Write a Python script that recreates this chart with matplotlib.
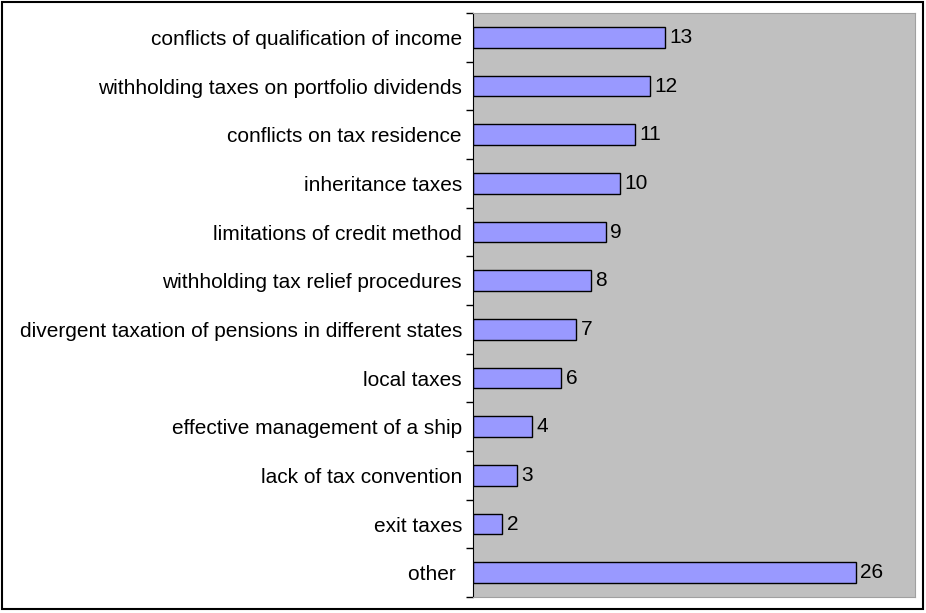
import matplotlib.pyplot as plt
from matplotlib.patches import Rectangle

categories = ['conflicts of qualification of income',
              'withholding taxes on portfolio dividends',
              'conflicts on tax residence',
              'inheritance taxes',
              'limitations of credit method',
              'withholding tax relief procedures',
              'divergent taxation of pensions in different states',
              'local taxes',
              'effective management of a ship',
              'lack of tax convention',
              'exit taxes',
              'other ']
values = [13, 12, 11, 10, 9, 8, 7, 6, 4, 3, 2, 26]

plt.rcParams['font.family'] = ['Liberation Sans', 'DejaVu Sans']

fig = plt.figure(figsize=(9.26, 6.13), dpi=100)
ax = fig.add_axes([473 / 926, 1 - 597 / 613, 442 / 926, 584 / 613])
ax.set_facecolor('#c0c0c0')

y = list(range(len(categories)))
ax.barh(y, values, height=0.43, color='#9999ff', edgecolor='black', linewidth=1)
for yi, v in zip(y, values):
    ax.text(v + 0.3, yi, str(v), va='center', ha='left', fontsize=15)

ax.set_xlim(0, 30)
ax.set_ylim(len(categories) - 0.5, -0.5)
ax.set_xticks([])
# major ticks sit on the category boundaries, labels on minor ticks
ax.set_yticks([i - 0.5 for i in range(len(categories) + 1)], minor=False)
ax.set_yticklabels([])
ax.set_yticks(y, minor=True)
ax.set_yticklabels(categories, minor=True, fontsize=15)
ax.tick_params(axis='y', which='minor', length=0, pad=8)
ax.tick_params(axis='y', which='major', length=5, width=1)
ax.spines['left'].set_color('black')
for s in ['top', 'right', 'bottom']:
    ax.spines[s].set_color('#a0a0a0')

fig.patches.append(Rectangle((2 / 926, 4 / 613), 921 / 926, 607 / 613,
                             transform=fig.transFigure, fill=False,
                             edgecolor='black', linewidth=1.5))

fig.savefig('out.png', dpi=100)
